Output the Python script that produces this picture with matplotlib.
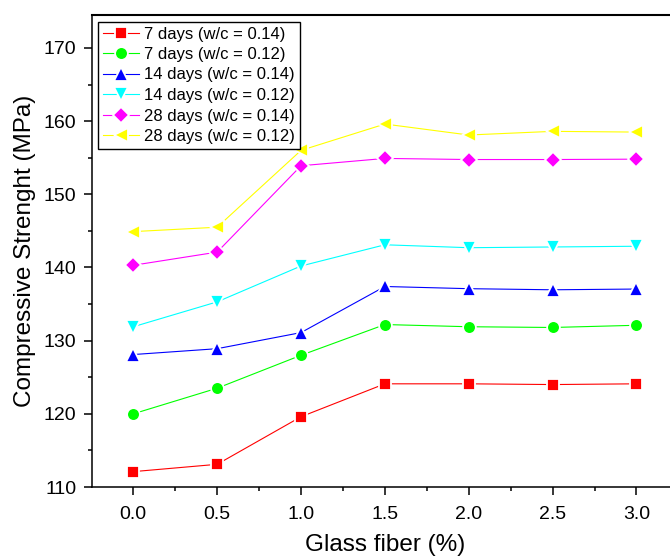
import matplotlib
matplotlib.use("Agg")
import matplotlib.pyplot as plt
from matplotlib.ticker import MultipleLocator

plt.rcParams['font.family'] = ['Liberation Sans', 'DejaVu Sans']

glass_fiber = [0.0, 0.5, 1.0, 1.5, 2.0, 2.5, 3.0]
labels = ["7 days (w/c = 0.14)", "7 days (w/c = 0.12)", "14 days (w/c = 0.14)",
          "14 days (w/c = 0.12)", "28 days (w/c = 0.14)", "28 days (w/c = 0.12)"]
d7_014 = [112.1, 113.1, 119.6, 124.1, 124.1, 124.0, 124.1]
d7_012 = [120.0, 123.5, 128.0, 132.2, 131.9, 131.8, 132.1]
d14_014 = [128.1, 128.9, 131.1, 137.4, 137.1, 136.95, 137.05]
d14_012 = [131.9, 135.3, 140.2, 143.1, 142.7, 142.8, 142.9]
d28_014 = [140.3, 142.1, 153.9, 154.9, 154.75, 154.75, 154.8]
d28_012 = [144.9, 145.5, 156.0, 159.6, 158.1, 158.6, 158.5]

series = [d7_014, d7_012, d14_014, d14_012, d28_014, d28_012]
colors = ['#FF0000', '#00FF00', '#0000FF', '#00FFFF', '#FF00FF', '#FFFF00']
markers = ['s', 'o', '^', 'v', 'D', '<']
msizes = [8.5, 9.2, 10.5, 10.5, 8.2, 10.5]

fig = plt.figure(figsize=(6.70, 5.59), dpi=100)
ax = fig.add_axes([91.7 / 670, (559 - 487) / 559, 1 - 91.7 / 670, (487 - 15) / 559])

for vals, c, m, ms, lab in zip(series, colors, markers, msizes, labels):
    ax.plot(glass_fiber, vals, color=c, marker=m, markersize=ms, lw=0.8,
            markeredgecolor='white', markeredgewidth=1.3, markerfacecolor=c,
            label=lab)

ax.set_xlim(-0.248, 3.2)
ax.set_ylim(110, 174.5)
ax.xaxis.set_major_locator(MultipleLocator(0.5))
ax.xaxis.set_minor_locator(MultipleLocator(0.25))
ax.yaxis.set_major_locator(MultipleLocator(10))
ax.yaxis.set_minor_locator(MultipleLocator(5))
ax.xaxis.set_major_formatter(matplotlib.ticker.FormatStrFormatter('%.1f'))

ax.spines['right'].set_visible(False)
for s in ['left', 'bottom']:
    ax.spines[s].set_linewidth(1.1)
ax.spines['top'].set_linewidth(1.5)

ax.tick_params(which='major', direction='out', length=6, width=1.1,
               labelsize=14, top=False, right=False)
ax.tick_params(axis='x', which='major', pad=8)
ax.tick_params(axis='y', which='major', pad=5)
ax.tick_params(which='minor', direction='out', length=3.2, width=1.1,
               top=False, right=False)

ax.set_xlabel("Glass fiber (%)", fontsize=17.5)
ax.set_ylabel("Compressive Strenght (MPa)", fontsize=17.5)
ax.xaxis.set_label_coords(0.507, -0.1)
ax.yaxis.set_label_coords(-0.096, 0.5)

leg = ax.legend(loc='upper left', bbox_to_anchor=((98 - 91.7) / 578.3, 1 - (22 - 15) / 472),
                fontsize=12, frameon=True, fancybox=False, edgecolor='black',
                framealpha=1, borderpad=0.27, labelspacing=0.33, handlelength=2.2,
                handletextpad=0.3, borderaxespad=0.0)
leg.get_frame().set_linewidth(1.0)

fig.savefig("out.png", dpi=100)
